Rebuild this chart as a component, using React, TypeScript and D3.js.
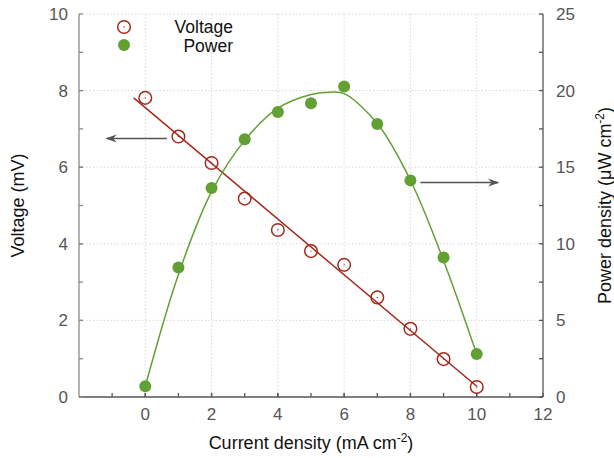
import * as d3 from "d3";

// measured points
const current = [0, 1, 2, 3, 4, 5, 6, 7, 8, 9, 10];
const voltage = [7.81, 6.8, 6.11, 5.18, 4.36, 3.81, 3.45, 2.6, 1.78, 0.99, 0.26];
const power = [0.7, 8.45, 13.64, 16.82, 18.6, 19.17, 20.26, 17.82, 14.14, 9.1, 2.8];

// fitted curves
const voltFitX = [-0.35, 10];
const voltFitY = [7.81, 0.28];
const powFitX = [0, 1, 2, 3, 4, 5, 5.6, 6, 7, 8, 9, 10];
const powFitY = [0.7, 8.0, 13.4, 16.75, 18.85, 19.75, 19.9, 19.8, 17.85, 14.15, 8.9, 2.8];

const xTicks = [0, 2, 4, 6, 8, 10, 12];
const vTicks = [0, 2, 4, 6, 8, 10];
const pTicks = [0, 5, 10, 15, 20, 25];

const W = 614;
const H = 458;
const m = { left: 79, right: 71, top: 14, bottom: 61 };
const red = "#a32a1c";
const green = "#62a034";
const font = "'Liberation Sans', Arial, sans-serif";

export default function App() {
  const x = d3.scaleLinear().domain([-2, 12]).range([m.left, W - m.right]);
  const yV = d3.scaleLinear().domain([0, 10]).range([H - m.bottom, m.top]);
  const yP = d3.scaleLinear().domain([0, 25]).range([H - m.bottom, m.top]);
  const x0 = x.range()[0], x1 = x.range()[1];
  const yb = yV.range()[0], yt = yV.range()[1];

  const vLine = d3.line<number>().x((d) => x(d)).y((_, i) => yV(voltFitY[i]));
  const pLine = d3
    .line<number>()
    .x((d) => x(d))
    .y((_, i) => yP(powFitY[i]))
    .curve(d3.curveCatmullRom);

  const xMinor = d3.range(-1, 12, 1);
  const vMinor = d3.range(1, 10, 1);
  const pMinor = d3.range(2.5, 25, 5);

  return (
    <svg width={W} height={H} style={{ position: "absolute", left: 0, top: 0 }} fontFamily={font}>
      <defs>
        <marker id="ah" viewBox="0 0 10 10" refX="9" refY="5" markerWidth="7" markerHeight="7" orient="auto-start-reverse">
          <path d="M0,1.5 L10,5 L0,8.5 L3,5 z" fill="#555" />
        </marker>
      </defs>
      {/* grid */}
      <g stroke="#d8d8d8" strokeDasharray="1.5,2" strokeWidth={1}>
        {xTicks.slice(0, -1).map((t) => (
          <line key={"gx" + t} x1={x(t)} x2={x(t)} y1={yb} y2={yt} />
        ))}
        {vTicks.slice(1).map((t) => (
          <line key={"gy" + t} x1={x0} x2={x1} y1={yV(t)} y2={yV(t)} />
        ))}
      </g>
      {/* axes */}
      <g strokeWidth={1.3}>
        <line x1={x0} x2={x0} y1={yt} y2={yb} stroke="#8a8a8a" />
        <line x1={x1} x2={x1} y1={yt} y2={yb} stroke="#555" />
        <line x1={x0} x2={x1} y1={yb} y2={yb} stroke="#555" />
        {xTicks.concat(xMinor).map((t, i) => (
          <line key={"tx" + i} x1={x(t)} x2={x(t)} y1={yb} y2={yb - 4} stroke="#555" />
        ))}
        {vTicks.concat(vMinor).map((t, i) => (
          <line key={"tv" + i} x1={x0} x2={x0 + 4} y1={yV(t)} y2={yV(t)} stroke="#8a8a8a" />
        ))}
        {pTicks.concat(pMinor).map((t, i) => (
          <line key={"tp" + i} x1={x1} x2={x1 - 4} y1={yP(t)} y2={yP(t)} stroke="#555" />
        ))}
      </g>
      {/* tick labels */}
      <g fontSize={17} fill="#555">
        {xTicks.map((t) => (
          <text key={"lx" + t} x={x(t)} y={yb + 23} textAnchor="middle">{t}</text>
        ))}
        {vTicks.map((t) => (
          <text key={"lv" + t} x={x0 - 11} y={yV(t)} dy="0.35em" textAnchor="end">{t}</text>
        ))}
        {pTicks.map((t) => (
          <text key={"lp" + t} x={x1 + 13} y={yP(t)} dy="0.35em" textAnchor="start">{t}</text>
        ))}
      </g>
      {/* axis titles */}
      <g fontSize={18} fill="#111">
        <text x={(x0 + x1) / 2} y={449} textAnchor="middle">
          Current density (mA cm<tspan dy={-7} fontSize={12}>-2</tspan><tspan dy={7}>)</tspan>
        </text>
        <text transform={`translate(24,${(yt + yb) / 2}) rotate(-90)`} textAnchor="middle">Voltage (mV)</text>
        <text transform={`translate(611,${(yt + yb) / 2}) rotate(-90)`} textAnchor="middle">
          Power density (μW cm<tspan dy={-7} fontSize={12}>-2</tspan><tspan dy={7}>)</tspan>
        </text>
      </g>
      {/* fits */}
      <path d={vLine(voltFitX) ?? ""} fill="none" stroke={red} strokeWidth={1.5} />
      <path d={pLine(powFitX) ?? ""} fill="none" stroke={green} strokeWidth={1.5} />
      {/* points */}
      {current.map((c, i) => (
        <g key={"v" + i}>
          <circle cx={x(c)} cy={yV(voltage[i])} r={6.3} fill="none" stroke={red} strokeWidth={1.5} />
          <circle cx={x(c)} cy={yV(voltage[i])} r={0.7} fill={red} />
        </g>
      ))}
      {current.map((c, i) => (
        <circle key={"p" + i} cx={x(c)} cy={yP(power[i])} r={6} fill={green} />
      ))}
      {/* arrows */}
      <line x1={x(0.65)} x2={x(-1.17)} y1={yV(6.75)} y2={yV(6.75)} stroke="#555" strokeWidth={1.6} markerEnd="url(#ah)" />
      <line x1={x(8.3)} x2={x(10.65)} y1={yP(14.0)} y2={yP(14.0)} stroke="#555" strokeWidth={1.6} markerEnd="url(#ah)" />
      {/* legend */}
      <g fontSize={17.5} fill="#111">
        <circle cx={124} cy={27} r={6.3} fill="none" stroke={red} strokeWidth={1.5} />
        <circle cx={124} cy={27} r={0.7} fill={red} />
        <text x={233} y={26.5} dy="0.35em" textAnchor="end">Voltage</text>
        <circle cx={124} cy={45} r={6} fill={green} />
        <text x={233} y={46} dy="0.35em" textAnchor="end">Power</text>
      </g>
    </svg>
  );
}
